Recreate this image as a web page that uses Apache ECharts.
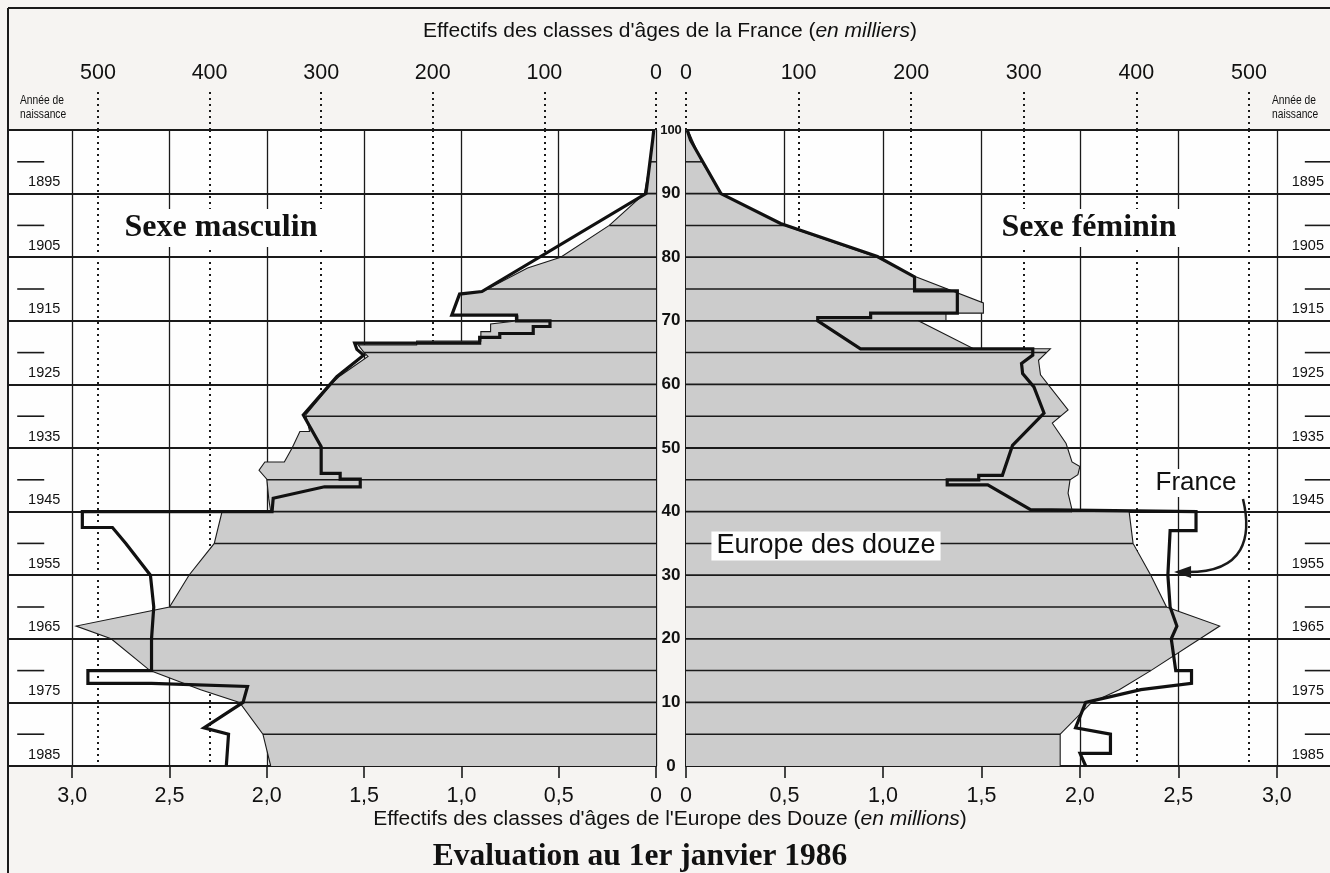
<!DOCTYPE html>
<html><head><meta charset="utf-8">
<script src="https://cdn.jsdelivr.net/npm/echarts@6/dist/echarts.min.js"></script>
<style>html,body{margin:0;padding:0;background:#f6f4f2;}#c{width:1330px;height:873px;}</style>
</head><body><div id="c"></div>
<script>
// ---- DATA (ages in completed years at 1 Jan 1986) ----
// Europe des douze, millions, [age, value] from oldest to youngest
const europeMale = [[100,0.01],[95,0.03],[90,0.06],[85,0.24],[80,0.49],[78.3,0.66],[74.6,0.89],[74.2,1.0],[71,1.0],[70.8,0.71],[70,0.71],[69.5,0.85],[68.3,0.85],[68.3,0.9],[66.8,0.9],[66.8,1.23],[66.2,1.23],[66.2,1.53],[65,1.5],[64.4,1.48],[61.2,1.63],[60,1.67],[55.2,1.8],[52.6,1.78],[52.6,1.83],[50,1.87],[47.8,1.91],[47.8,2.01],[46.5,2.04],[45.1,2.0],[42,1.99],[40,1.98],[40,2.23],[35,2.27],[30,2.4],[25,2.5],[22,2.98],[20,2.8],[15,2.6],[12,2.34],[10,2.14],[5,2.02],[0,1.98]];
const europeFemale = [[100,0.01],[95,0.08],[90,0.18],[85,0.5],[80,0.97],[77,1.16],[72.8,1.51],[71.2,1.51],[71.2,1.32],[70,1.32],[70,1.18],[65.6,1.46],[65.6,1.85],[63.8,1.79],[61.5,1.8],[56,1.94],[53.9,1.86],[50.7,1.93],[47.8,1.96],[47.1,2.0],[45.8,1.99],[45,1.95],[42.9,1.94],[40.3,1.96],[40,1.96],[40,2.25],[35,2.27],[30,2.36],[25,2.44],[22,2.71],[20,2.61],[15,2.36],[12,2.2],[10,2.06],[5,1.9],[0,1.9]];
// France, thousands, [age, value]
const franceMale = [[100,2],[98.4,3],[90,9],[74.6,156],[74.3,156],[74.2,176],[70.9,183],[70.9,125],[70,125],[70,95],[69.1,95],[69.1,110],[68,110],[68,140],[67.4,140],[67.4,158],[66.5,158],[66.5,270],[65.5,268],[64.6,262],[61.2,286],[60,292],[55.2,316],[50.2,300],[46,300],[46,283],[45.1,283],[45.1,265],[43.9,265],[43.9,297],[42.1,343],[40,344],[40,514],[37.5,514],[37.5,487],[35,475],[30,453],[25,450],[20,452],[15,452],[15,509],[13,509],[13,452],[12.5,366],[10,370],[6,405],[5,383],[0,385]];
const franceFemale = [[100,1],[98.4,4],[90,31],[85.3,84],[80.1,170],[76.9,203],[74.7,203],[74.7,241],[71.2,241],[71.2,164],[70.5,164],[70.5,117],[70,117],[65.6,155],[65.6,308],[64.6,308],[63.3,298],[61.7,299],[59.6,309],[55.5,318],[50.4,290],[45.7,281],[45.7,260],[45,260],[45,232],[44.2,232],[44.2,268],[40.3,306],[40,306],[40,453],[37,453],[37,430],[30,428],[25,430],[22,436],[20,431],[15,435],[15,449],[13,449],[12,404],[10,355],[6,346],[5,377],[2,377],[2,350],[0,355]];
const birthYears = [1895,1905,1915,1925,1935,1945,1955,1965,1975,1985];
const millionTicks = [0,0.5,1,1.5,2,2.5,3];
const thousandTicks = [0,100,200,300,400,500];
const ageTicks = [0,10,20,30,40,50,60,70,80,90,100];

// ---- helpers ----
const FONT = '"Liberation Sans", Arial, Helvetica, sans-serif';
const SERIF = '"Liberation Serif", "Times New Roman", serif';
const INK = '#1a1a1a';
function interp(data, a) {
  for (let i = 0; i < data.length - 1; i++) {
    const a0 = data[i][0], a1 = data[i+1][0];
    if (a <= a0 && a >= a1) {
      if (a0 === a1) return Math.max(data[i][1], data[i+1][1]);
      const t = (a0 - a) / (a0 - a1);
      return data[i][1] + t * (data[i+1][1] - data[i][1]);
    }
  }
  return 0;
}
function onTick(v, ticks) { return ticks.some(t => Math.abs(t - v) < 1e-6); }
function fmtM(v) {
  if (!onTick(v, millionTicks)) return '';
  return Math.abs(v) < 1e-9 ? '0' : v.toFixed(1).replace('.', ',');
}
function fmtK(v) { return onTick(v, thousandTicks) ? String(Math.round(v)) : ''; }
function millionsAxis(g, mx, inv) {
  return {type:'value', gridIndex:g, min:0, max:mx, inverse:inv, interval:0.5, position:'bottom',
    axisLine:{show:true, onZero:false, lineStyle:{color:INK, width:2}},
    axisTick:{show:true, length:12, customValues:millionTicks, lineStyle:{color:INK, width:1.6}},
    axisLabel:{show:true, margin:19, fontSize:21.5, color:'#111', fontFamily:FONT, formatter:fmtM, customValues:millionTicks},
    splitLine:{show:true, lineStyle:{color:INK, width:1.3}}};
}
function thousandsAxis(g, mx, inv) {
  return {type:'value', gridIndex:g, min:0, max:mx, inverse:inv, interval:100, position:'top',
    axisLine:{show:true, onZero:false, lineStyle:{color:INK, width:2}},
    axisTick:{show:true, length:42, customValues:thousandTicks, lineStyle:{color:INK, width:2, type:[2,4]}},
    axisLabel:{show:true, margin:46, fontSize:21.5, color:'#111', fontFamily:FONT, formatter:fmtK, customValues:thousandTicks},
    splitLine:{show:true, lineStyle:{color:INK, width:2, type:[2,4]}}};
}
function ageAxis(g, pos, lbl) {
  return {type:'value', gridIndex:g, min:0, max:100, interval:10, position:pos,
    axisLine:{show:true, onZero:false, lineStyle:{color:INK, width:2}},
    axisTick:{show:false},
    axisLabel:{show:lbl, margin:15, align:'center', verticalAlign:'middle', fontSize:17, fontWeight:'bold', color:'#111', fontFamily:FONT,
      formatter: v => v === 100 ? '{s|100}' : String(v), rich:{s:{fontSize:13, fontWeight:'bold', fontFamily:FONT, color:'#111'}}},
    splitLine:{show:true, lineStyle:{color:INK, width:1.8}}};
}
function europeRenderer(data) {
  return function (params, api) {
    if (params.dataIndex !== 0) return null;
    const pts = data.map(d => api.coord([d[1], d[0]]));
    const poly = [api.coord([0, data[0][0]])].concat(pts, [api.coord([0, data[data.length-1][0]])]);
    const children = [
      {type:'polygon', shape:{points:poly}, style:{fill:'#cccccc', stroke:null}},
      {type:'polyline', shape:{points:pts}, style:{stroke:INK, lineWidth:1.1, fill:null}}
    ];
    for (let a = 5; a < 100; a += 5) {
      const p0 = api.coord([0, a]), p1 = api.coord([interp(data, a), a]);
      children.push({type:'line', shape:{x1:p0[0], y1:p0[1], x2:p1[0], y2:p1[1]}, style:{stroke:INK, lineWidth:a % 10 === 0 ? 1.8 : 1.5}});
    }
    return {type:'group', children};
  };
}
function yearRenderer(side) {
  return function (params, api) {
    const age = api.value(1);
    const x3 = api.coord([3.0, age])[0];
    const yl = api.coord([0, age + 1.8])[1];
    const yd = api.coord([0, age + 5])[1];
    const cx = side === 'L' ? x3 - 28 : x3 + 31;
    const d0 = side === 'L' ? x3 - 55 : x3 + 28;
    return {type:'group', children:[
      {type:'text', x:cx, y:yl, style:{text:String(api.value(2)), align:'center', verticalAlign:'middle', fontSize:14.5, fontFamily:FONT, fill:'#111'}},
      {type:'line', shape:{x1:d0, y1:yd, x2:d0 + 27, y2:yd}, style:{stroke:INK, lineWidth:1.6}}
    ]};
  };
}
const yearData = birthYears.map(y => [0, 1986 - y - 1, y]);

const chart = echarts.init(document.getElementById('c'), null, {renderer:'canvas'});
const option = {
  animation:false,
  grid:[
    {left:8, top:130, width:648, height:636, show:true, backgroundColor:'#fefefe', borderWidth:0},
    {left:686, top:130, width:644, height:636, show:true, backgroundColor:'#fefefe', borderWidth:0}
  ],
  xAxis:[millionsAxis(0, 3.33, true), thousandsAxis(0, 580.6, true), millionsAxis(1, 3.27, false), thousandsAxis(1, 572, false)],
  yAxis:[ageAxis(0, 'right', true), ageAxis(1, 'left', false)],
  series:[
    {type:'custom', name:'Europe des douze (hommes)', xAxisIndex:0, yAxisIndex:0, data:europeMale.map(d => [d[1], d[0]]), renderItem:europeRenderer(europeMale), z:2, silent:true},
    {type:'custom', name:'Europe des douze (femmes)', xAxisIndex:2, yAxisIndex:1, data:europeFemale.map(d => [d[1], d[0]]), renderItem:europeRenderer(europeFemale), z:2, silent:true},
    {type:'line', name:'France (hommes)', xAxisIndex:1, yAxisIndex:0, data:franceMale.map(d => [d[1], d[0]]), symbol:'none', showSymbol:false, lineStyle:{color:'#111', width:3.2, join:'miter'}, z:5, silent:true},
    {type:'line', name:'France (femmes)', xAxisIndex:3, yAxisIndex:1, data:franceFemale.map(d => [d[1], d[0]]), symbol:'none', showSymbol:false, lineStyle:{color:'#111', width:3.2, join:'miter'}, z:5, silent:true},
    {type:'custom', name:'années L', xAxisIndex:0, yAxisIndex:0, data:yearData, renderItem:yearRenderer('L'), z:6, silent:true},
    {type:'custom', name:'années R', xAxisIndex:2, yAxisIndex:1, data:yearData, renderItem:yearRenderer('R'), z:6, silent:true}
  ]
};
chart.setOption(option);

// annotations
const tip = chart.convertToPixel({seriesIndex:3}, [interp(franceFemale, 30.5), 30.5]);
const tx = tip[0] + 6, ty = tip[1];
const small = (x, y, t) => ({type:'text', x:x, y:y, scaleX:0.82, z:100, style:{text:t, align:'left', verticalAlign:'middle', fontSize:12.5, fontFamily:FONT, fill:'#111'}});
const g = [
  {type:'line', shape:{x1:8, y1:8, x2:1330, y2:8}, style:{stroke:INK, lineWidth:2}, z:100},
  {type:'line', shape:{x1:8, y1:8, x2:8, y2:873}, style:{stroke:INK, lineWidth:2}, z:100},
  {type:'text', x:670, y:31, z:100, style:{text:"{n|Effectifs des classes d'âges de la France (}{i|en milliers}{n|)}", align:'center', verticalAlign:'middle',
    rich:{n:{fontSize:21, fontFamily:FONT, fill:'#111'}, i:{fontSize:21, fontFamily:FONT, fontStyle:'italic', fill:'#111'}}}},
  {type:'text', x:670, y:819, z:100, style:{text:"{n|Effectifs des classes d'âges de l'Europe des Douze (}{i|en millions}{n|)}", align:'center', verticalAlign:'middle',
    rich:{n:{fontSize:21, fontFamily:FONT, fill:'#111'}, i:{fontSize:21, fontFamily:FONT, fontStyle:'italic', fill:'#111'}}}},
  {type:'text', x:640, y:857, z:100, style:{text:'Evaluation au 1er janvier 1986', align:'center', verticalAlign:'middle', fontSize:31.5, fontWeight:'bold', fontFamily:SERIF, fill:'#111'}},
  {type:'text', x:221, y:228, z:100, style:{text:'Sexe masculin', align:'center', verticalAlign:'middle', fontSize:32, fontWeight:'bold', fontFamily:SERIF, fill:'#111', backgroundColor:'#fefefe', padding:[3,6]}},
  {type:'text', x:1089, y:228, z:100, style:{text:'Sexe féminin', align:'center', verticalAlign:'middle', fontSize:32, fontWeight:'bold', fontFamily:SERIF, fill:'#111', backgroundColor:'#fefefe', padding:[3,6]}},
  {type:'text', x:826, y:546, z:100, style:{text:'Europe des douze', align:'center', verticalAlign:'middle', fontSize:27, fontFamily:FONT, fill:'#111', backgroundColor:'#fefefe', padding:[1,5]}},
  {type:'text', x:1196, y:483, z:100, style:{text:'France', align:'center', verticalAlign:'middle', fontSize:26, fontFamily:FONT, fill:'#111', backgroundColor:'#fefefe', padding:[1,5]}},
  small(20, 101, 'Année de'), small(20, 115, 'naissance'), small(1272, 101, 'Année de'), small(1272, 115, 'naissance'),
  {type:'bezierCurve', z:100, shape:{x1:1243, y1:499, cpx1:1252, cpy1:537, cpx2:1245, cpy2:ty, x2:tx + 14, y2:ty}, style:{stroke:INK, lineWidth:2.5, fill:null}},
  {type:'polygon', z:100, shape:{points:[[tx, ty], [tx + 17, ty - 6], [tx + 17, ty + 6]]}, style:{fill:INK}}
];
chart.setOption({graphic:g});
</script></body></html>
